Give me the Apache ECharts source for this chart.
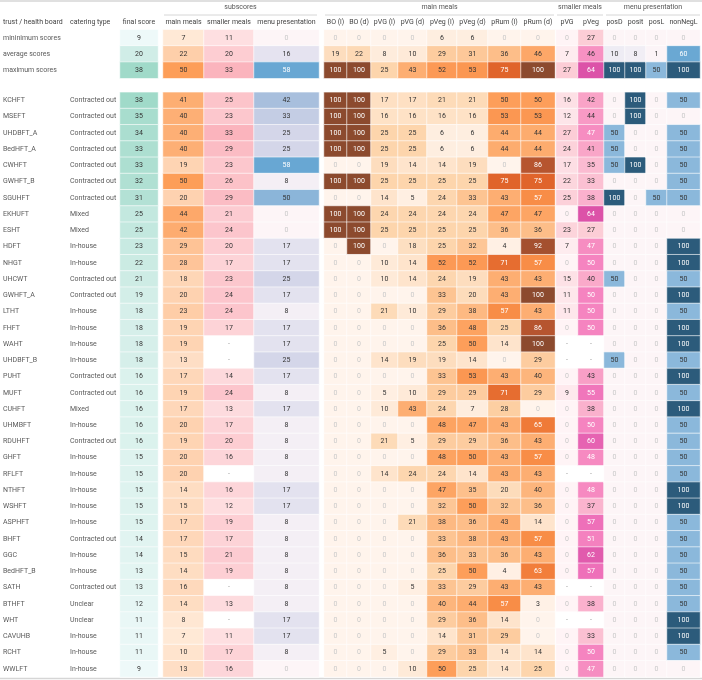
<!DOCTYPE html>
<html><head><meta charset="utf-8">
<script src="https://cdn.jsdelivr.net/npm/echarts@6/dist/echarts.min.js"></script>
<style>html,body{margin:0;padding:0;background:#fff}#c{width:702px;height:680px}</style>
</head><body><div id="c"></div><script>
// ---------------- DATA ----------------
const summaryLabels = ['mininimum scores', 'average scores', 'maximum scores'];
const trusts = ['KCHFT','MSEFT','UHDBFT_A','BedHFT_A','CWHFT','GWHFT_B','SGUHFT','EKHUFT','ESHT','HDFT',
  'NHGT','UHCWT','GWHFT_A','LTHT','FHFT','WAHT','UHDBFT_B','PUHT','MUFT','CUHFT',
  'UHMBFT','RDUHFT','GHFT','RFLFT','NTHFT','WSHFT','ASPHFT','BHFT','GGC','BedHFT_B',
  'SATH','BTHFT','WHT','CAVUHB','RCHT','WWLFT'];
const cateringTypes = ['Contracted out','Contracted out','Contracted out','Contracted out','Contracted out','Contracted out','Contracted out','Mixed','Mixed','In-house',
  'In-house','Contracted out','Contracted out','In-house','In-house','In-house','In-house','Contracted out','Contracted out','Mixed',
  'In-house','Contracted out','In-house','In-house','In-house','In-house','In-house','Contracted out','In-house','In-house',
  'Contracted out','Unclear','Unclear','In-house','In-house','In-house'];
const columnLabels = ['final score','main meals','smaller meals','menu presentation',
  'BO (l)','BO (d)','pVG (l)','pVG (d)','pVeg (l)','pVeg (d)','pRum (l)','pRum (d)',
  'pVG','pVeg','posD','posit','posL','nonNegL'];
// summary rows, one value per column (same order as columnLabels)
const minimumScores = [9,7,11,0, 0,0,0,0,6,6,0,0, 0,27, 0,0,0,0];
const averageScores = [20,22,20,16, 19,22,8,10,29,31,36,46, 7,46, 10,8,1,60];
const maximumScores = [38,50,33,58, 100,100,25,43,52,53,75,100, 27,64, 100,100,50,100];
// per-trust columns (null = missing, shown as "-")
const finalScore = [38,35,34,33,33,32,31,25,25,23,22,21,19,18,18,18,18,16,16,16,16,16,15,15,15,15,15,14,14,13,13,12,11,11,11,9];
const mainMeals = [41,40,40,40,19,50,20,44,42,29,28,18,20,23,19,19,13,17,19,17,20,19,20,20,14,15,17,17,15,14,16,14,8,7,10,13];
const smallerMeals = [25,23,33,29,23,26,29,21,24,20,17,23,24,24,17,null,null,14,24,13,17,20,16,null,16,12,19,17,21,19,null,13,null,11,17,16];
const menuPresentation = [42,33,25,25,58,8,50,0,0,17,17,25,17,8,17,17,25,17,8,17,8,8,8,8,17,17,8,8,8,8,8,8,17,17,8,0];
const boL = [100,100,100,100,0,100,0,100,100,0,0,0,0,0,0,0,0,0,0,0,0,0,0,0,0,0,0,0,0,0,0,0,0,0,0,0];
const boD = [100,100,100,100,0,100,0,100,100,100,0,0,0,0,0,0,0,0,0,0,0,0,0,0,0,0,0,0,0,0,0,0,0,0,0,0];
const pvgL = [17,16,25,25,19,25,14,24,25,0,10,10,0,21,0,0,14,0,5,10,0,21,0,14,0,0,0,0,0,0,0,0,0,0,5,0];
const pvgD = [17,16,25,25,14,25,5,24,25,18,14,14,0,10,0,0,19,0,10,43,0,5,0,24,0,0,21,0,0,0,5,0,0,0,0,10];
const pvegL = [21,16,6,6,14,25,24,24,25,25,52,24,33,29,36,25,19,33,29,24,48,29,48,24,47,32,38,33,36,25,33,40,29,14,29,50];
const pvegD = [21,16,6,6,19,25,33,24,25,32,52,19,20,38,48,50,14,53,29,7,47,29,50,14,35,50,36,38,33,50,29,44,36,31,33,25];
const prumL = [50,53,44,44,0,75,43,47,36,4,71,43,43,57,25,14,0,43,71,28,43,36,43,43,20,32,43,43,36,4,43,57,14,29,14,14];
const prumD = [50,53,44,44,86,75,57,47,36,92,57,43,100,43,86,100,29,40,29,0,65,43,57,43,40,36,14,57,43,63,43,3,0,0,14,25];
const smallPVG = [16,12,27,24,17,22,25,0,23,7,0,15,11,11,0,null,null,0,9,0,0,0,0,null,0,0,0,0,0,0,null,0,null,0,0,0];
const smallPVeg = [42,44,47,41,35,33,38,64,27,47,50,40,50,50,50,null,null,43,55,38,50,60,48,null,48,37,57,51,62,57,null,38,null,33,50,47];
const posD = [0,0,50,50,50,0,100,0,0,0,0,50,0,0,0,0,50,0,0,0,0,0,0,0,0,0,0,0,0,0,0,0,0,0,0,0];
const posit = [100,100,0,0,100,0,0,0,0,0,0,0,0,0,0,0,0,0,0,0,0,0,0,0,0,0,0,0,0,0,0,0,0,0,0,0];
const posL = [0,0,0,0,0,0,50,0,0,0,0,0,0,0,0,0,0,0,0,0,0,0,0,0,0,0,0,0,0,0,0,0,0,0,0,0];
const nonNegL = [50,0,50,50,50,50,50,0,0,100,100,50,100,50,100,100,50,100,50,100,50,50,50,50,100,100,50,50,50,50,50,50,100,100,50,0];
const groupHeaders = ['subscores','main meals','smaller meals','menu presentation'];

// ---------------- STYLE / LAYOUT ----------------
const FONT = 'Roboto, "Noto Sans", sans-serif';
const FS = 7;
const scales = {
  final: [[9,'#eef9f9'],[38,'#a0dac9']],
  main: [[0,'#fff5eb'],[50,'#fd9e58']],
  smaller: [[0,'#fff4f3'],[33,'#fbb4bd']],
  menu: [[0,'#fdf5f7'],[8,'#f4eff5'],[17,'#e3e2ef'],[25,'#d4d6e9'],[33,'#c4cde4'],[42,'#a8bfdd'],[50,'#8bb5d9'],[58,'#68a7d3']],
  oranges: [[0,'#fff4ec'],[10,'#feead8'],[25,'#fdd5ac'],[40,'#fdb57c'],[50,'#fd9e5a'],[60,'#f6853f'],[75,'#e0642b'],[86,'#b6552f'],[100,'#8c4a2e']],
  pinks: [[0,'#fff4f6'],[7,'#feecef'],[16,'#fde0e5'],[27,'#fccdd6'],[35,'#fbbbd1'],[42,'#f9a3c7'],[47,'#f68dc1'],[50,'#f584c0'],[57,'#ee70b9'],[64,'#dc52a8']],
  blues: [[0,'#fdf5f7'],[10,'#eeecf4'],[50,'#8bb8db'],[60,'#6aa8d3'],[100,'#2c5b7b']]
};
const columns = [
  {data: finalScore, x0:120, x1:158, scale:'final', whiteAt:999},
  {data: mainMeals, x0:163, x1:204, scale:'main', whiteAt:999},
  {data: smallerMeals, x0:204, x1:254, scale:'smaller', whiteAt:999},
  {data: menuPresentation, x0:254, x1:319, scale:'menu', whiteAt:55},
  {data: boL, x0:324, x1:347, scale:'oranges', whiteAt:55},
  {data: boD, x0:347, x1:371, scale:'oranges', whiteAt:55},
  {data: pvgL, x0:371, x1:398, scale:'oranges', whiteAt:55},
  {data: pvgD, x0:398, x1:427, scale:'oranges', whiteAt:55},
  {data: pvegL, x0:427, x1:457, scale:'oranges', whiteAt:55},
  {data: pvegD, x0:457, x1:488, scale:'oranges', whiteAt:55},
  {data: prumL, x0:488, x1:521, scale:'oranges', whiteAt:55},
  {data: prumD, x0:521, x1:555, scale:'oranges', whiteAt:55},
  {data: smallPVG, x0:556, x1:578, scale:'pinks', whiteAt:46.5},
  {data: smallPVeg, x0:578, x1:604, scale:'pinks', whiteAt:46.5},
  {data: posD, x0:604, x1:625, scale:'blues', whiteAt:55},
  {data: posit, x0:625, x1:646, scale:'blues', whiteAt:55},
  {data: posL, x0:646, x1:667, scale:'blues', whiteAt:55},
  {data: nonNegL, x0:667, x1:700, scale:'blues', whiteAt:55}
];
const TOP = {top: 29.7, height: 48.6};
const BOT = {top: 92.3, height: 584.7};

function hex(h){ return [1,3,5].map(i => parseInt(h.substr(i,2),16)); }
function colorFor(scaleName, v){
  if (v === null || v === undefined) return '#ffffff';
  const st = scales[scaleName];
  if (v <= st[0][0]) return st[0][1];
  if (v >= st[st.length-1][0]) return st[st.length-1][1];
  for (let i = 1; i < st.length; i++) {
    if (v <= st[i][0]) {
      const t = (v - st[i-1][0]) / (st[i][0] - st[i-1][0]);
      const a = hex(st[i-1][1]), b = hex(st[i][1]);
      return 'rgb(' + a.map((x,k) => Math.round(x + (b[k]-x)*t)).join(',') + ')';
    }
  }
}
function textColor(col, v){
  if (v === null) return '#999';
  if (v === 0) return '#c9c9c9';
  if (v >= col.whiteAt) return '#ffffff';
  return '#333333';
}

const grids = [], xAxes = [], yAxes = [], series = [];
const noAxis = {axisLine:{show:false}, axisTick:{show:false}, splitLine:{show:false}};
columns.forEach((col, c) => {
  [['top', summaryLabels], ['bot', trusts]].forEach(([blk, cats]) => {
    const g = grids.length;
    const L = blk === 'top' ? TOP : BOT;
    grids.push({left: col.x0, width: col.x1 - col.x0, top: L.top, height: L.height});
    const xi = xAxes.length;
    xAxes.push(Object.assign({type:'category', gridIndex:g, data:[columnLabels[c]],
      position:'top', show: blk === 'top',
      axisLabel:{show: blk === 'top', interval:0, margin:4, fontSize:FS, color:'#444', fontFamily:FONT}}, noAxis,
      {axisLine:{show:false}}));
    const yi = yAxes.length;
    const showNames = c === 0;
    yAxes.push(Object.assign({type:'category', gridIndex:g, data:cats, inverse:true, position:'left',
      show: showNames,
      axisLabel:{show: showNames, interval:0, align:'left', margin:117, fontSize:FS, color:'#5a5a5a', fontFamily:FONT}}, noAxis));
    if (c === 0 && blk === 'bot') {
      yAxes.push(Object.assign({type:'category', gridIndex:g, data:cateringTypes, inverse:true, position:'left', offset:0,
        axisLabel:{show:true, interval:0, align:'left', margin:50, fontSize:FS, color:'#5a5a5a', fontFamily:FONT}}, noAxis));
    }
    const vals = blk === 'top' ? [minimumScores[c], averageScores[c], maximumScores[c]] : col.data;
    series.push({
      type:'heatmap', xAxisIndex:xi, yAxisIndex:yi, silent:true,
      itemStyle:{borderColor:'#ffffff', borderWidth:0.6},
      label:{show:true, fontSize:FS, fontFamily:FONT,
        formatter: p => vals[p.dataIndex] === null ? '-' : String(vals[p.dataIndex])},
      data: vals.map((v, i) => ({
        value:[0, i, v === null ? 0 : v],
        itemStyle:{color: colorFor(col.scale, v)},
        label:{color: textColor(col, v)}
      }))
    });
  });
});

const graphic = [];
const txt = (s, x, y, align, fill) => ({type:'text', style:{text:s, x, y, align, verticalAlign:'middle',
  fontSize:FS, fontFamily:FONT, fill}});
const line = (x1, y1, x2, y2, w) => ({type:'line', shape:{x1,y1,x2,y2}, style:{stroke:'#d6d6d6', lineWidth:w}});
graphic.push(line(0, 1, 702, 1, 1.5));
graphic.push(line(0, 678.5, 702, 678.5, 1.5));
graphic.push(txt('trust / health board', 3, 22.5, 'left', '#444'));
graphic.push(txt('catering type', 70, 22.5, 'left', '#444'));
const groupSpans = [[164, 317], [325, 554], [557, 603], [606, 700]];
groupSpans.forEach((s, i) => {
  graphic.push(txt(groupHeaders[i], (s[0]+s[1])/2, 7.7, 'center', '#555'));
  graphic.push(line(s[0], 15, s[1], 15, 1));
});

const chart = echarts.init(document.getElementById('c'), null, {renderer:'canvas'});
chart.setOption({
  animation:false,
  backgroundColor:'#ffffff',
  textStyle:{fontFamily:FONT},
  grid:grids, xAxis:xAxes, yAxis:yAxes, series, graphic
});
</script></body></html>
